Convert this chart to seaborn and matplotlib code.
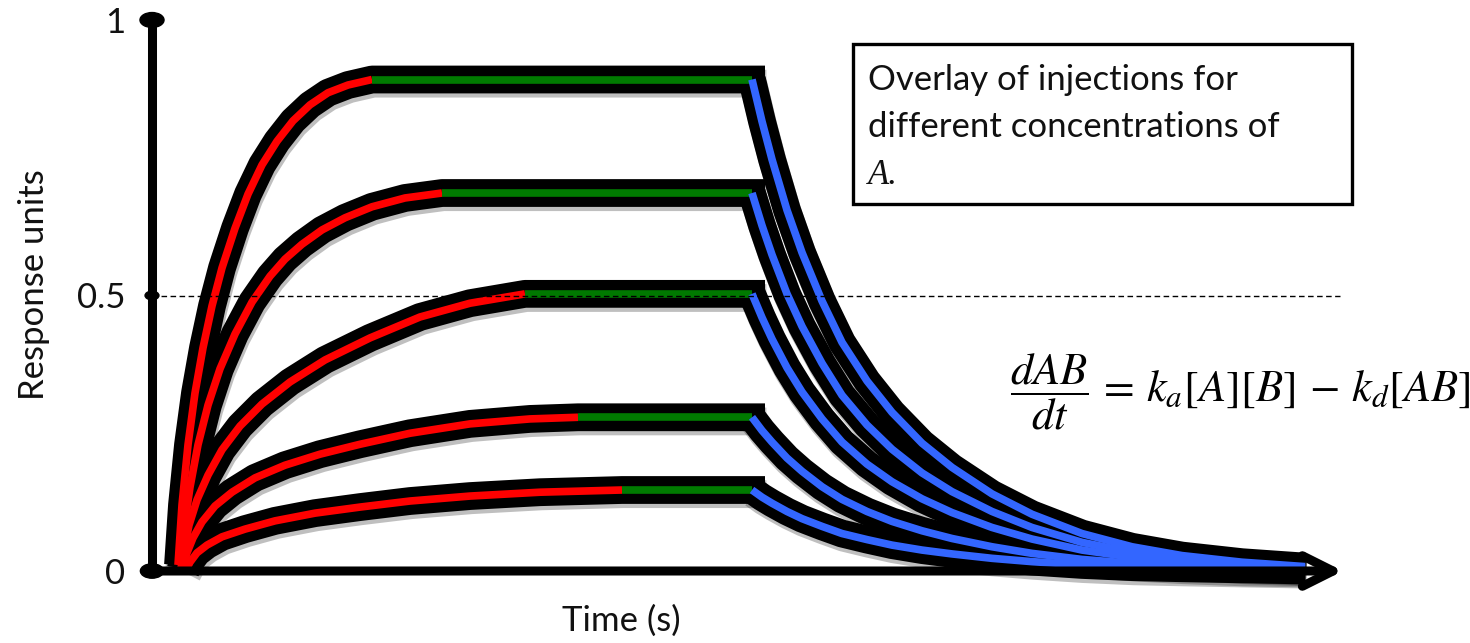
import numpy as np
import pandas as pd
import matplotlib
matplotlib.use("Agg")
import matplotlib.pyplot as plt
import matplotlib.patheffects as pe
import seaborn as sns
from matplotlib.path import Path
from matplotlib.transforms import Affine2D
from matplotlib.patches import Rectangle

# ---------------- data (time in s, response in RU) ----------------
curve_names = ["c1", "c2", "c3", "c4", "c5"]

assoc_t_c1 = [0, 4, 10, 17, 25, 34, 44, 57, 70, 84, 99, 115, 132, 150, 170, 194]
assoc_ru_c1 = [0.011, 0.120, 0.229, 0.323, 0.405, 0.481, 0.550, 0.622, 0.684, 0.737,
               0.780, 0.817, 0.846, 0.868, 0.882, 0.892]

assoc_t_c2 = [2, 6, 12, 20, 30, 42, 57, 74, 92, 107, 124, 144, 167, 194, 227, 264]
assoc_ru_c2 = [0.011, 0.076, 0.152, 0.229, 0.301, 0.367, 0.430, 0.488, 0.535, 0.566,
               0.593, 0.619, 0.641, 0.661, 0.677, 0.686]

assoc_t_c3 = [3, 6, 11, 19, 30, 44, 62, 84, 112, 147, 192, 242, 292, 347]
assoc_ru_c3 = [0.005, 0.038, 0.083, 0.129, 0.174, 0.220, 0.263, 0.303, 0.343, 0.383,
               0.423, 0.461, 0.486, 0.503]

assoc_t_c4 = [5, 9, 15, 24, 37, 54, 77, 107, 142, 182, 232, 292, 352, 400]
assoc_ru_c4 = [0.005, 0.033, 0.060, 0.089, 0.118, 0.143, 0.169, 0.192, 0.212, 0.230,
               0.250, 0.267, 0.276, 0.279]

assoc_t_c5 = [8, 12, 19, 29, 44, 67, 97, 137, 182, 232, 292, 362, 444]
assoc_ru_c5 = [0.002, 0.016, 0.033, 0.047, 0.062, 0.076, 0.091, 0.105, 0.116, 0.127,
               0.136, 0.143, 0.147]

injection_end = 574

dissoc_t = [574, 584, 594, 609, 624, 644, 664, 689, 714, 744, 774, 814, 854, 904, 954,
            1004, 1064, 1127]
dissoc_ru_c1 = [0.892, 0.816, 0.747, 0.655, 0.578, 0.490, 0.415, 0.345, 0.288, 0.232,
                0.188, 0.140, 0.103, 0.068, 0.044, 0.028, 0.016, 0.008]
dissoc_ru_c2 = [0.686, 0.627, 0.574, 0.503, 0.444, 0.377, 0.319, 0.265, 0.221, 0.178,
                0.144, 0.108, 0.079, 0.052, 0.034, 0.021, 0.012, 0.006]
dissoc_ru_c3 = [0.503, 0.460, 0.421, 0.369, 0.325, 0.276, 0.234, 0.194, 0.162, 0.131,
                0.106, 0.079, 0.058, 0.038, 0.025, 0.016, 0.009, 0.005]
dissoc_ru_c4 = [0.279, 0.255, 0.234, 0.205, 0.181, 0.153, 0.130, 0.108, 0.090, 0.073,
                0.059, 0.044, 0.032, 0.021, 0.014, 0.009, 0.005, 0.003]
dissoc_ru_c5 = [0.147, 0.134, 0.123, 0.108, 0.095, 0.081, 0.068, 0.057, 0.047, 0.038,
                0.031, 0.023, 0.017, 0.011, 0.007, 0.005, 0.003, 0.001]

y_ticks = [0, 0.5, 1]
y_tick_labels = ["0", "0.5", "1"]
reference_level = 0.5

x_label = "Time (s)"
y_label = "Response units"
box_lines = ["Overlay of injections for", "different concentrations of"]
box_italic = "A."
equation = r"$\dfrac{dAB}{dt}\,=\,k_a[A][B]\,-\,k_d[AB]$"

# ---------------- build tidy table ----------------
assoc_t = [assoc_t_c1, assoc_t_c2, assoc_t_c3, assoc_t_c4, assoc_t_c5]
assoc_ru = [assoc_ru_c1, assoc_ru_c2, assoc_ru_c3, assoc_ru_c4, assoc_ru_c5]
dissoc_ru = [dissoc_ru_c1, dissoc_ru_c2, dissoc_ru_c3, dissoc_ru_c4, dissoc_ru_c5]

rows = []
for name, ta, ra, rd in zip(curve_names, assoc_t, assoc_ru, dissoc_ru):
    for t, r in zip(ta, ra):
        rows.append((name, "association", t, r))
    rows.append((name, "steady", ta[-1], ra[-1]))
    rows.append((name, "steady", injection_end, ra[-1]))
    for t, r in zip(dissoc_t, rd):
        rows.append((name, "dissociation", t, r))
df = pd.DataFrame(rows, columns=["curve", "phase", "time", "ru"])

# ---------------- styling ----------------
sns.set_theme(style="white")
plt.rcParams["font.family"] = ["Lato", "DejaVu Sans"]

BAND_LW = 20
CORE_LW = 5.5
OVERHANG = 13
FS = 25
phase_colors = {"association": "#ff0000", "steady": "#007a00", "dissociation": "#3366ff"}
shadow = [pe.SimpleLineShadow(offset=(1, -3), shadow_color="#000000", alpha=0.25), pe.Normal()]

fig = plt.figure(figsize=(14.70, 6.43), dpi=100)
ax = fig.add_axes([152 / 1470, 0, 1318 / 1470, 1])

# black bands (all first)
for name in curve_names:
    d = df[df.curve == name]
    a = d[d.phase.isin(["association", "steady"])]
    a = pd.concat([a, pd.DataFrame({"curve": [name], "phase": ["steady"],
                                    "time": [injection_end + OVERHANG],
                                    "ru": [a.ru.iloc[-1]]})])
    for part in (a, d[d.phase == "dissociation"]):
        sns.lineplot(data=part, x="time", y="ru", sort=False, estimator=None,
                     color="black", lw=BAND_LW, ax=ax, zorder=2,
                     solid_capstyle="butt", solid_joinstyle="round",
                     path_effects=shadow)

# coloured cores
for name in curve_names:
    d = df[df.curve == name]
    for phase, col in phase_colors.items():
        sns.lineplot(data=d[d.phase == phase], x="time", y="ru", sort=False,
                     estimator=None, color=col, lw=CORE_LW, ax=ax, zorder=3,
                     solid_capstyle="butt", solid_joinstyle="round")

# axes appearance
ax.set_xlim(-26, 1292)
ax.set_ylim(-72 / 551, 1 + 20 / 551)
for s in ["top", "right", "bottom"]:
    ax.spines[s].set_visible(False)
ax.spines["left"].set_bounds(0, 1)
ax.spines["left"].set_linewidth(6.5)
ax.spines["left"].set_color("black")
ax.spines["left"].set_zorder(4)
ax.set_xticks([])
ax.set_yticks(y_ticks)
ax.set_yticklabels(y_tick_labels)
ax.tick_params(axis="y", length=0, pad=19, labelsize=FS, labelcolor="#111111")
ax.grid(False)

# ellipse tick markers on the y axis
ell = Affine2D().scale(1.0, 0.62).transform_path(Path.unit_circle())
ax.scatter([ax.get_xlim()[0]] * len(y_ticks), y_ticks, s=[280, 100, 300],
           marker=ell, color="black", zorder=6, clip_on=False)

# x axis arrow
ax.annotate("", xy=(1165, 0), xytext=(-26, 0), xycoords="data",
            arrowprops=dict(arrowstyle="->,head_length=1.1,head_width=0.55",
                            lw=6.5, color="black", shrinkA=0, shrinkB=0,
                            mutation_scale=20, capstyle="round", joinstyle="round"),
            zorder=4)

# dashed reference line
ax.plot([-26, 1162], [reference_level, reference_level], color="black",
        lw=1.0, ls=(0, (4, 2.5)), zorder=10)

ax.set_xlabel(x_label, fontsize=FS, color="#111111")
ax.set_ylabel(y_label, fontsize=FS, color="#111111")
ax.xaxis.set_label_coords((621 - 152) / 1318, (643 - 605) / 643)
ax.yaxis.set_label_coords((50 - 152) / 1318, (643 - 285) / 643)

# annotation box
ax.add_patch(Rectangle((675, 0.666), 499, 0.2904, fill=False, lw=2.4,
                       ec="black", zorder=5))
ax.text(690, (571 - 90) / 551, box_lines[0], fontsize=FS, va="baseline", ha="left", color="#111111")
ax.text(690, (571 - 137) / 551, box_lines[1], fontsize=FS, va="baseline", ha="left", color="#111111")
ax.text(690, (571 - 184) / 551, box_italic, fontsize=FS, va="baseline", ha="left",
        family="Liberation Serif", style="italic", color="#111111")

# rate equation
ax.text(832, (571 - 392) / 551, equation, fontsize=32, va="center", ha="left",
        math_fontfamily="stix", color="black")

fig.savefig("out.png", dpi=100)
